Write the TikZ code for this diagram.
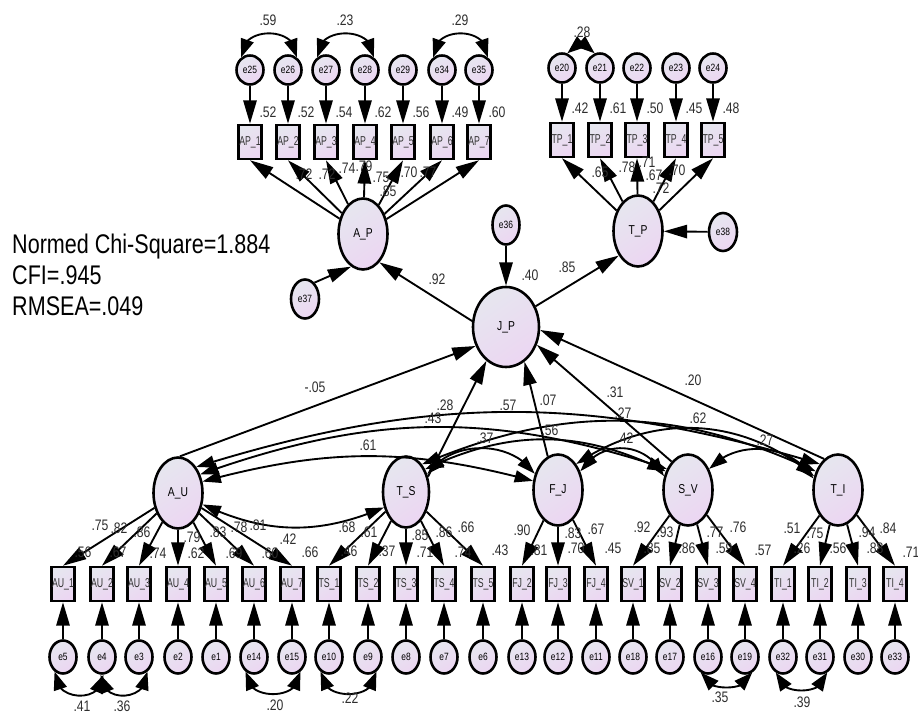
\documentclass[tikz,border=0pt]{standalone}
\usepackage{fontspec}
\setmainfont{Liberation Sans}[FakeStretch=0.8]
\newfontfamily\narrowfont{Liberation Sans}[FakeStretch=0.68]
\usetikzlibrary{shapes.geometric,arrows.meta,bending}

\newdimen\pxu \pxu=0.03cm
\definecolor{fillA}{HTML}{E6E6EF}
\definecolor{fillB}{HTML}{ECD6F2}
\definecolor{numgray}{HTML}{2E2E2E}

\tikzset{
  shadefill/.style={top color=fillA, bottom color=fillB, shading angle=35},
  obs/.style={rectangle, draw, line width=2.2pt, shadefill, minimum width=23\pxu,
    minimum height=34\pxu, inner sep=0pt, text=black!80,
    font=\narrowfont\fontsize{11}{12}\selectfont},
  err/.style={ellipse, draw, line width=2.2pt, shadefill, minimum width=27\pxu,
    minimum height=29\pxu, inner sep=0pt, font=\fontsize{9}{10}\selectfont},
  lat/.style={ellipse, draw, line width=2.2pt, shadefill, minimum width=49\pxu,
    minimum height=71\pxu, inner sep=0pt, font=\fontsize{11}{12}\selectfont},
  num/.style={font=\fontsize{13}{14}\selectfont, text=numgray, inner sep=0pt},
  fitinfo/.style={font=\fontsize{23}{26}\selectfont, inner sep=0pt},
  reg/.style={line width=1.6pt, -{Triangle[length=7mm,width=4mm]}},
  cov/.style={line width=1.6pt,
    {Triangle[length=5.5mm,width=3.6mm]}-{Triangle[length=5.5mm,width=3.6mm]}},
  ecov/.style={line width=1.6pt,
    {Triangle[length=5.5mm,width=4mm]}-{Triangle[length=5.5mm,width=4mm]}},
}

\begin{document}
\begin{tikzpicture}[x=0.03cm, y=-0.03cm]
    \useasboundingbox (0,0) rectangle (918,713);

    % 1. Fit indices on the left
    \node[fitinfo, anchor=base west] (chi) at (12,254) {Normed Chi-Square=1.884};
    \node[fitinfo, anchor=base west] (cfi) at (12,285) {CFI=.945};
    \node[fitinfo, anchor=base west] (rmsea) at (12,316) {RMSEA=.049};

    % 2. Latent variables
    \node[lat] (AP) at (363,234) {A\_P};
    \node[lat] (TP) at (638,231) {T\_P};
    \node[lat, minimum width=66\pxu, minimum height=80\pxu] (JP) at (506,327) {J\_P};
    \node[lat] (AU) at (178,493) {A\_U};
    \node[lat, minimum width=46\pxu] (TS) at (406,492) {T\_S};
    \node[lat] (FJ) at (558,490) {F\_J};
    \node[lat] (SV) at (688,490) {S\_V};
    \node[lat] (TI) at (838,490) {T\_I};

    % 3. Residuals of the endogenous latents
    \node[err, minimum height=39\pxu] (e36) at (506,225) {e36};
    \node[err, minimum width=28\pxu, minimum height=39\pxu] (e37) at (305,299) {e37};
    \node[err, minimum width=28\pxu, minimum height=38\pxu] (e38) at (723,232) {e38};
    \draw[reg] (e36) -- (JP);
    \draw[reg] (e37.60) -- (AP.250);
    \draw[reg] (e38) -- (TP);

    % 4. Top indicators (A_P and T_P)
    \foreach \x/\n/\e/\val in {250/1/25/.52, 288/2/26/.52, 326/3/27/.54, 365/4/28/.62,
                               403/5/29/.56, 442/6/34/.49, 479/7/35/.60} {
        \node[obs] (AP\n) at (\x,142) {AP\_\n};
        \node[err] (e\e) at (\x,70) {e\e};
        \node[num] (rAP\n) at (\x+18,112) {\val};
        \draw[reg] (e\e) -- (AP\n);
        \draw[reg] (AP) -- (AP\n.south);
    }
    \foreach \x/\n/\e/\val in {562/1/20/.42, 600/2/21/.61, 637/3/22/.50, 676/4/23/.45, 713/5/24/.48} {
        \node[obs] (TP\n) at (\x,140) {TP\_\n};
        \node[err] (e\e) at (\x,68) {e\e};
        \node[num] (rTP\n) at (\x+18,108) {\val};
        \draw[reg] (e\e) -- (TP\n);
        \draw[reg] (TP) -- (TP\n.south);
    }

    % 5. Bottom indicators
    \foreach \x/\n/\e in {63/1/5, 102/2/4, 139/3/3, 178/4/2, 216/5/1, 254/6/14, 292/7/15} {
        \node[obs] (AU\n) at (\x,584) {AU\_\n};
        \node[err, minimum height=33\pxu] (e\e) at (\x,657) {e\e};
        \draw[reg] (e\e) -- (AU\n);
        \draw[reg] (AU) -- (AU\n.north);
    }
    \foreach \x/\n/\e in {329/1/10, 368/2/9, 406/3/8, 444/4/7, 483/5/6} {
        \node[obs] (TS\n) at (\x,584) {TS\_\n};
        \node[err, minimum height=33\pxu] (e\e) at (\x,657) {e\e};
        \draw[reg] (e\e) -- (TS\n);
        \draw[reg] (TS) -- (TS\n.north);
    }
    \foreach \x/\n/\e in {522/2/13, 558/3/12, 596/4/11} {
        \node[obs] (FJ\n) at (\x,584) {FJ\_\n};
        \node[err, minimum height=33\pxu] (e\e) at (\x,657) {e\e};
        \draw[reg] (e\e) -- (FJ\n);
        \draw[reg] (FJ) -- (FJ\n.north);
    }
    \foreach \x/\n/\e in {633/1/18, 670/2/17, 708/3/16, 745/4/19} {
        \node[obs] (SV\n) at (\x,584) {SV\_\n};
        \node[err, minimum height=33\pxu] (e\e) at (\x,657) {e\e};
        \draw[reg] (e\e) -- (SV\n);
        \draw[reg] (SV) -- (SV\n.north);
    }
    \foreach \x/\n/\e in {783/1/32, 820/2/31, 858/3/30, 895/4/33} {
        \node[obs] (TI\n) at (\x,584) {TI\_\n};
        \node[err, minimum height=33\pxu] (e\e) at (\x,657) {e\e};
        \draw[reg] (e\e) -- (TI\n);
        \draw[reg] (TI) -- (TI\n.north);
    }

    % 6. Structural paths
    \draw[reg] (JP.170) -- (AP.-60);
    \draw[reg] (JP.35) -- (TP.232);
    \draw[reg] (AU.87) -- (JP.212);
    \draw[reg] (TS.35) -- (JP.240);
    \draw[reg] (FJ.107) -- (JP.298);
    \draw[reg] (SV.120) -- (JP.-30);
    \draw[reg] (TI.114) -- (JP.-5);

    % 7. Covariances among the exogenous latents
    \draw[cov] (AU.55) to[bend left=17] (TI.125);
    \draw[cov] (AU.40) to[bend left=19] (SV.135);
    \draw[cov] (AU.25) to[bend left=15] (FJ.160);
    \draw[cov] (AU.-25) to[bend right=24] (TS.-145);
    \draw[cov] (TS.40) to[bend left=55] (FJ.145);
    \draw[cov] (TS.50) to[bend left=26] (SV.140);
    \draw[cov] (TS.60) to[bend left=24] (TI.140);
    \draw[cov] (FJ.40) to[bend left=60, looseness=1.2] (SV.150);
    \draw[cov] (FJ.55) to[bend left=37] (TI.150);
    \draw[cov] (SV.45) to[bend left=53] (TI.155);

    % 8. Covariances among residuals
    \draw[ecov] (e25.125) .. controls +(-2,-32) and +(2,-32) .. (e26.55);
    \draw[ecov] (e27.125) .. controls +(-2,-32) and +(2,-32) .. (e28.55);
    \draw[ecov] (e34.125) .. controls +(-2,-32) and +(2,-32) .. (e35.55);
    \draw[ecov] (e20.70) .. controls +(4,-14) and +(-4,-14) .. (e21.110);
    \draw[ecov] (e5.-120) .. controls +(-2,30) and +(0,30) .. (e4.-85);
    \draw[ecov] (e4.-95) .. controls +(0,30) and +(2,30) .. (e3.-60);
    \draw[ecov] (e14.-120) .. controls +(-2,30) and +(2,30) .. (e15.-60);
    \draw[ecov] (e10.-120) .. controls +(-2,30) and +(2,30) .. (e9.-60);
    \draw[ecov] (e16.-115) .. controls +(0,20) and +(0,20) .. (e19.-65);
    \draw[ecov] (e32.-115) .. controls +(0,24) and +(0,24) .. (e31.-65);

    % 9. Estimates
    \foreach \x/\y/\val [count=\i] in {
        304/174/.72, 327/174/.72, 347/168/.74, 364/166/.79, 381/177/.75, 409/172/.70, 428/172/.77,
        388/191/.85, 600/172/.65, 627/167/.78, 647/162/.71, 654/175/.67, 677/170/.70, 661/188/.72,
        530/275/.40, 567/267/.85, 437/279/.92,
        315/387/-.05, 445/405/.28, 548/400/.07, 615/392/.31, 693/380/.20,
        508/405/.57, 433/418/.43, 368/445/.61, 485/438/.37, 550/430/.56,
        623/413/.27, 625/438/.42, 698/418/.62, 765/440/.27, 288/539/.42,
        268/20/.59, 345/20/.23, 460/20/.29, 582/32/.28,
        82/706/.41, 122/706/.36, 275/705/.20, 350/698/.22, 720/697/.35, 802/702/.39,
        100/525/.75, 119/528/.82, 142/532/.86, 192/537/.79, 218/532/.83, 239/527/.78, 258/525/.81,
        83/552/.56, 118/552/.67, 158/553/.74, 196/553/.62, 234/553/.69, 270/553/.60, 310/552/.66,
        347/527/.68, 369/532/.61, 420/535/.85, 444/532/.86, 466/527/.66,
        349/551/.46, 387/551/.37, 425/552/.71, 463/552/.74, 500/550/.43,
        522/530/.90, 573/533/.83, 596/529/.67, 539/550/.81, 576/548/.70, 613/548/.45,
        642/527/.92, 665/532/.93, 715/532/.77, 738/527/.76,
        652/548/.85, 687/548/.86, 724/548/.59, 763/550/.57,
        792/528/.51, 815/533/.75, 867/532/.94, 888/528/.84,
        802/548/.26, 838/548/.56, 875/548/.88, 911/552/.71} {
        \node[num] (lbl\i) at (\x,\y) {\val};
    }
\end{tikzpicture}
\end{document}
